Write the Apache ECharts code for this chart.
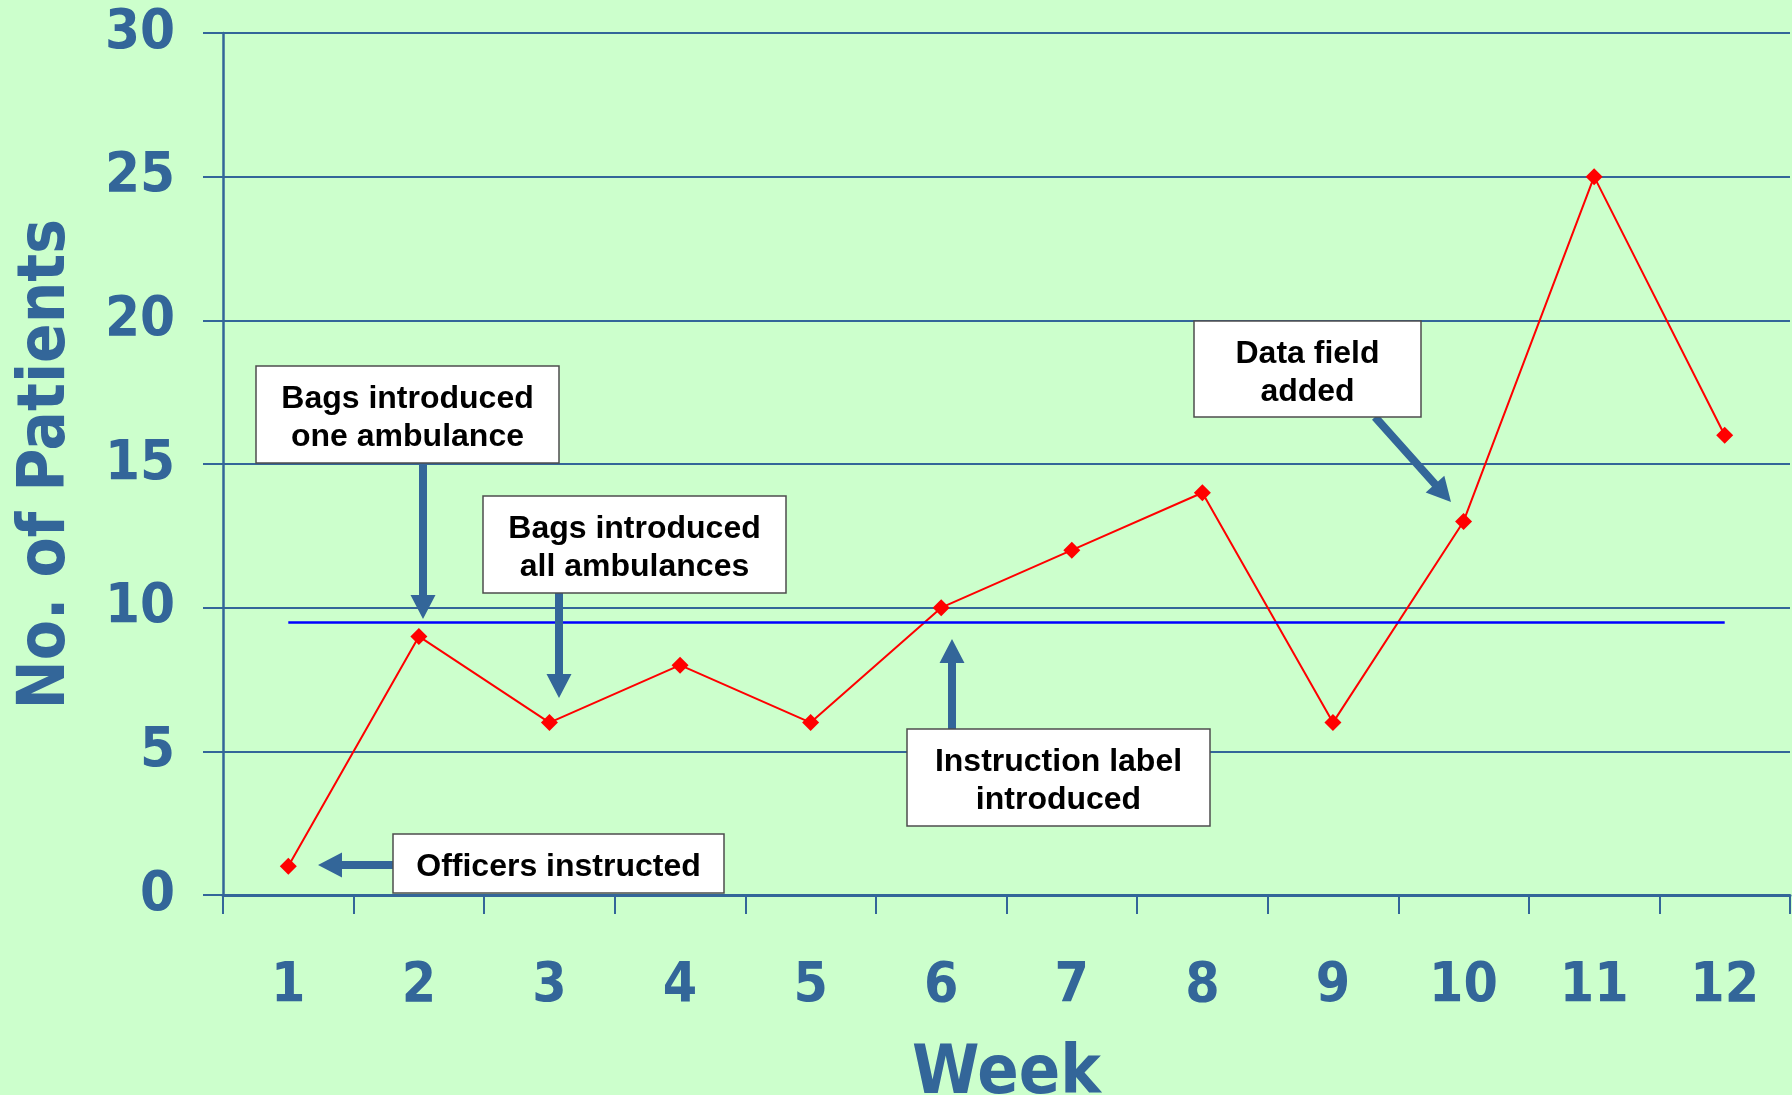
<!DOCTYPE html>
<html>
<head>
<meta charset="utf-8">
<title>No. of Patients per Week</title>
<script src="https://cdn.jsdelivr.net/npm/echarts@6/dist/echarts.min.js"></script>
<style>
  html, body { margin: 0; padding: 0; background: #ccffcc; }
  #chart { width: 1792px; height: 1095px; }
</style>
</head>
<body>
<div id="chart"></div>
<script>
// data
const weeks = ['1', '2', '3', '4', '5', '6', '7', '8', '9', '10', '11', '12'];
const patients = [1, 9, 6, 8, 6, 10, 12, 14, 6, 13, 25, 16];
const median = 9.5;
const yMin = 0;
const yMax = 30;
const yStep = 5;

const blue = '#336699';
const axisFont = "'DejaVu Sans Condensed', 'DejaVu Sans', sans-serif";
const boxFont = "'Liberation Sans', Arial, sans-serif";

// callout boxes + arrows (pixel layout)
const notes = [
  { lines: ['Bags introduced', 'one ambulance'], box: [256, 366, 303, 97], arrow: [423, 463, 423, 619] },
  { lines: ['Bags introduced', 'all ambulances'], box: [483, 496, 303, 97], arrow: [559, 593, 559, 698] },
  { lines: ['Instruction label', 'introduced'], box: [907, 729, 303, 97], arrow: [952, 729, 952, 639] },
  { lines: ['Data field', 'added'], box: [1194, 321, 227, 96], arrow: [1375, 417, 1451, 502] },
  { lines: ['Officers instructed'], box: [393, 834, 331, 59], arrow: [393, 865, 318, 865] }
];

// arrow outline: shaft + triangular head
function arrowPoints(x1, y1, x2, y2) {
  const shaft = 8, headW = 25, headL = 24;
  const len = Math.hypot(x2 - x1, y2 - y1);
  const ux = (x2 - x1) / len, uy = (y2 - y1) / len;
  const px = -uy, py = ux;
  const bx = x2 - ux * headL, by = y2 - uy * headL;
  return [
    [x1 + px * shaft / 2, y1 + py * shaft / 2],
    [bx + px * shaft / 2, by + py * shaft / 2],
    [bx + px * headW / 2, by + py * headW / 2],
    [x2, y2],
    [bx - px * headW / 2, by - py * headW / 2],
    [bx - px * shaft / 2, by - py * shaft / 2],
    [x1 - px * shaft / 2, y1 - py * shaft / 2]
  ];
}

const graphics = [];
notes.forEach((n) => {
  const [x, y, w, h] = n.box;
  graphics.push({
    type: 'polygon',
    z: 100,
    shape: { points: arrowPoints(...n.arrow) },
    style: { fill: blue }
  });
  graphics.push({
    type: 'rect',
    z: 101,
    shape: { x: x, y: y, width: w, height: h },
    style: { fill: '#ffffff', stroke: '#4d4d4d', lineWidth: 1.5 }
  });
  graphics.push({
    type: 'text',
    z: 102,
    x: x + w / 2,
    y: y + h / 2 + 4,
    style: {
      text: n.lines.join('\n'),
      align: 'center',
      verticalAlign: 'middle',
      fill: '#000000',
      font: 'bold 32px ' + boxFont,
      lineHeight: 38
    }
  });
});

const chart = echarts.init(document.getElementById('chart'));

const options = {
  animation: false,
  backgroundColor: '#ccffcc',
  grid: { left: 223, right: 2, top: 33, bottom: 200, containLabel: false, outerBoundsMode: 'none' },
  xAxis: {
    type: 'category',
    data: weeks,
    boundaryGap: true,
    name: 'Week',
    nameLocation: 'middle',
    nameGap: 146,
    nameTextStyle: { color: blue, fontSize: 68, fontWeight: 'bold', fontFamily: axisFont },
    axisLine: { lineStyle: { color: blue, width: 3 } },
    axisTick: { show: true, length: 19, lineStyle: { color: blue, width: 2 } },
    axisLabel: { color: blue, fontSize: 55, fontWeight: 'bold', fontFamily: axisFont, margin: 64 },
    splitLine: { show: false }
  },
  yAxis: {
    type: 'value',
    min: yMin,
    max: yMax,
    interval: yStep,
    name: 'No. of Patients',
    nameLocation: 'middle',
    nameGap: 143,
    nameTextStyle: { color: blue, fontSize: 65, fontWeight: 'bold', fontFamily: axisFont },
    axisLine: { show: true, lineStyle: { color: blue, width: 2.5 } },
    axisTick: { show: true, length: 20, lineStyle: { color: blue, width: 2 } },
    axisLabel: { color: blue, fontSize: 56, fontWeight: 'bold', fontFamily: axisFont, margin: 48 },
    splitLine: { show: true, lineStyle: { color: blue, width: 2 } }
  },
  series: [
    {
      type: 'line',
      data: patients,
      symbol: 'diamond',
      symbolSize: 17,
      itemStyle: { color: '#ff0000' },
      lineStyle: { color: '#ff0000', width: 2 },
      markLine: {
        silent: true,
        symbol: ['none', 'none'],
        label: { show: false },
        lineStyle: { color: '#0000ff', width: 2.5, type: 'solid' },
        data: [[{ coord: [weeks[0], median] }, { coord: [weeks[weeks.length - 1], median] }]]
      }
    }
  ],
  graphic: graphics
};

chart.setOption(options);
</script>
</body>
</html>
